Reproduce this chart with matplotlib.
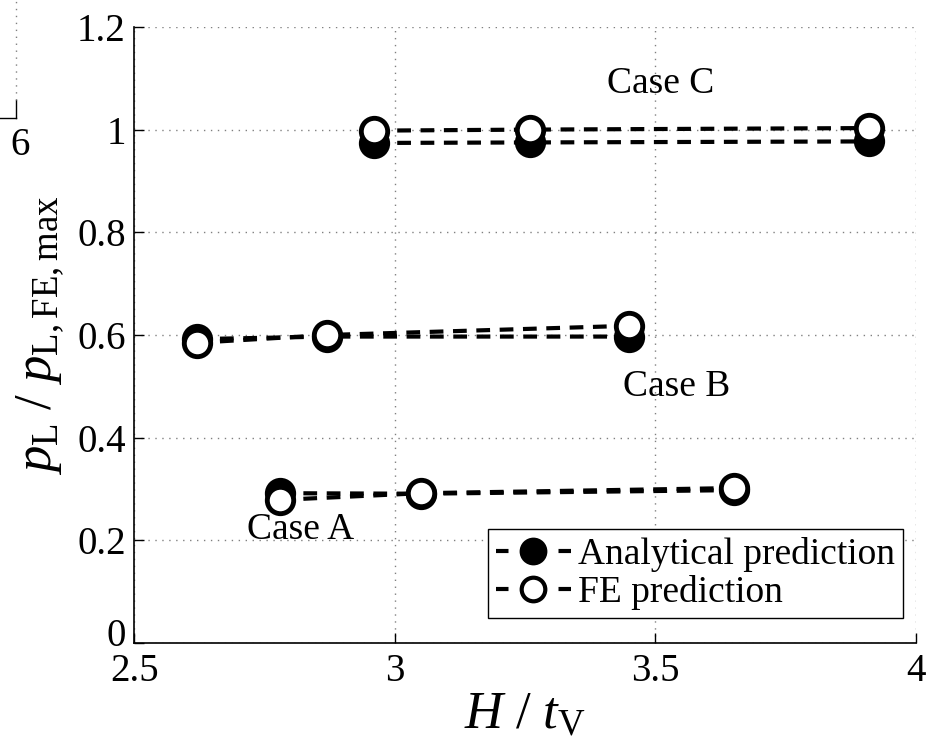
import matplotlib.pyplot as plt
import matplotlib.transforms as mtransforms
from matplotlib.lines import Line2D

# Data
case_a_x = [2.78, 3.05, 3.65]
case_a_analytical = [0.292, 0.291, 0.298]
case_a_fe = [0.279, 0.292, 0.302]

case_b_x = [2.62, 2.87, 3.45]
case_b_analytical = [0.592, 0.597, 0.597]
case_b_fe = [0.585, 0.600, 0.618]

case_c_x = [2.96, 3.26, 3.91]
case_c_analytical = [0.974, 0.975, 0.977]
case_c_fe = [0.998, 1.000, 1.003]

x_ticks = [2.5, 3, 3.5, 4]
x_tick_labels = ["2.5", "3", "3.5", "4"]
y_ticks = [0, 0.2, 0.4, 0.6, 0.8, 1.0, 1.2]
y_tick_labels = ["0", "0.2", "0.4", "0.6", "0.8", "1", "1.2"]

plt.rcParams["font.family"] = ["Liberation Serif", "DejaVu Serif"]
plt.rcParams["mathtext.fontset"] = "custom"
plt.rcParams["mathtext.rm"] = "Liberation Serif"
plt.rcParams["mathtext.it"] = "Liberation Serif:italic"

fig = plt.figure(figsize=(9.31, 7.47), dpi=100)
ax = fig.add_axes([0.144, 0.139, 0.840, 0.825])

line_kw = dict(color="black", lw=3, dashes=[3.3, 2.3], markersize=19, markeredgewidth=3.5)

for xs, ya, yf in [(case_a_x, case_a_analytical, case_a_fe),
                   (case_b_x, case_b_analytical, case_b_fe),
                   (case_c_x, case_c_analytical, case_c_fe)]:
    ax.plot(xs, ya, marker="o", markerfacecolor="black", markeredgecolor="black", **line_kw)
    ax.plot(xs, yf, marker="o", markerfacecolor="white", markeredgecolor="black", **line_kw)

ax.text(3.51, 1.09, "Case C", fontsize=27, ha="center", va="center")
ax.text(3.54, 0.50, "Case B", fontsize=27, ha="center", va="center")
ax.text(2.82, 0.22, "Case A", fontsize=27, ha="center", va="center")

ax.set_xlim(2.5, 4)
ax.set_ylim(0, 1.2)
ax.set_xticks(x_ticks)
ax.set_xticklabels(x_tick_labels)
ax.set_yticks(y_ticks)
ax.set_yticklabels(y_tick_labels)
ax.tick_params(direction="in", labelsize=28, length=7, width=1)
ax.tick_params(axis="x", pad=7)
ax.tick_params(axis="y", pad=6)
# the "0" label sits a little above the axis line, as in the original
zero_lbl = ax.get_yticklabels()[0]
zero_lbl.set_transform(zero_lbl.get_transform() +
                       mtransforms.ScaledTranslation(0, 11 / 100, fig.dpi_scale_trans))
ax.grid(True, linestyle=(0, (1, 4)), color="gray", lw=1)
ax.spines["top"].set_visible(False)
ax.spines["right"].set_visible(False)
ax.spines["left"].set_linewidth(1.2)
ax.spines["bottom"].set_linewidth(1.2)

ax.set_xlabel(r"$H\ /\ t_{\mathrm{V}}$", fontsize=38, labelpad=1)
ax.set_ylabel(r"$p_{\mathrm{L}}\ /\ p_{\mathrm{L,FE,max}}$", fontsize=38, labelpad=8)

handles = [
    Line2D([], [], color="black", lw=3, dashes=[3, 12], marker="o",
           markersize=17, markerfacecolor="black", markeredgecolor="black", markeredgewidth=3),
    Line2D([], [], color="black", lw=3, dashes=[3, 12], marker="o",
           markersize=17, markerfacecolor="white", markeredgecolor="black", markeredgewidth=3),
]
leg = ax.legend(handles, ["Analytical prediction", "FE prediction"], loc="lower right",
                bbox_to_anchor=(0.983, 0.041), borderaxespad=0,
                fontsize=27, handlelength=2.0, handletextpad=0.2, borderpad=0.2,
                labelspacing=0.1, fancybox=False, framealpha=1)
leg.get_frame().set_edgecolor("black")
leg.get_frame().set_linewidth(1)

# Fragment of the neighbouring panel on the left edge
fig.text(0.022, 0.805, "6", fontsize=28, ha="center", va="center")
fig.add_artist(Line2D([0.0, 0.017], [0.842, 0.842], color="black", lw=1))
fig.add_artist(Line2D([0.017, 0.017], [0.842, 0.866], color="black", lw=1))
fig.add_artist(Line2D([0.017, 0.017], [0.866, 1.0], color="gray", lw=1, linestyle=(0, (1, 4))))

fig.savefig("out.png", dpi=100)
